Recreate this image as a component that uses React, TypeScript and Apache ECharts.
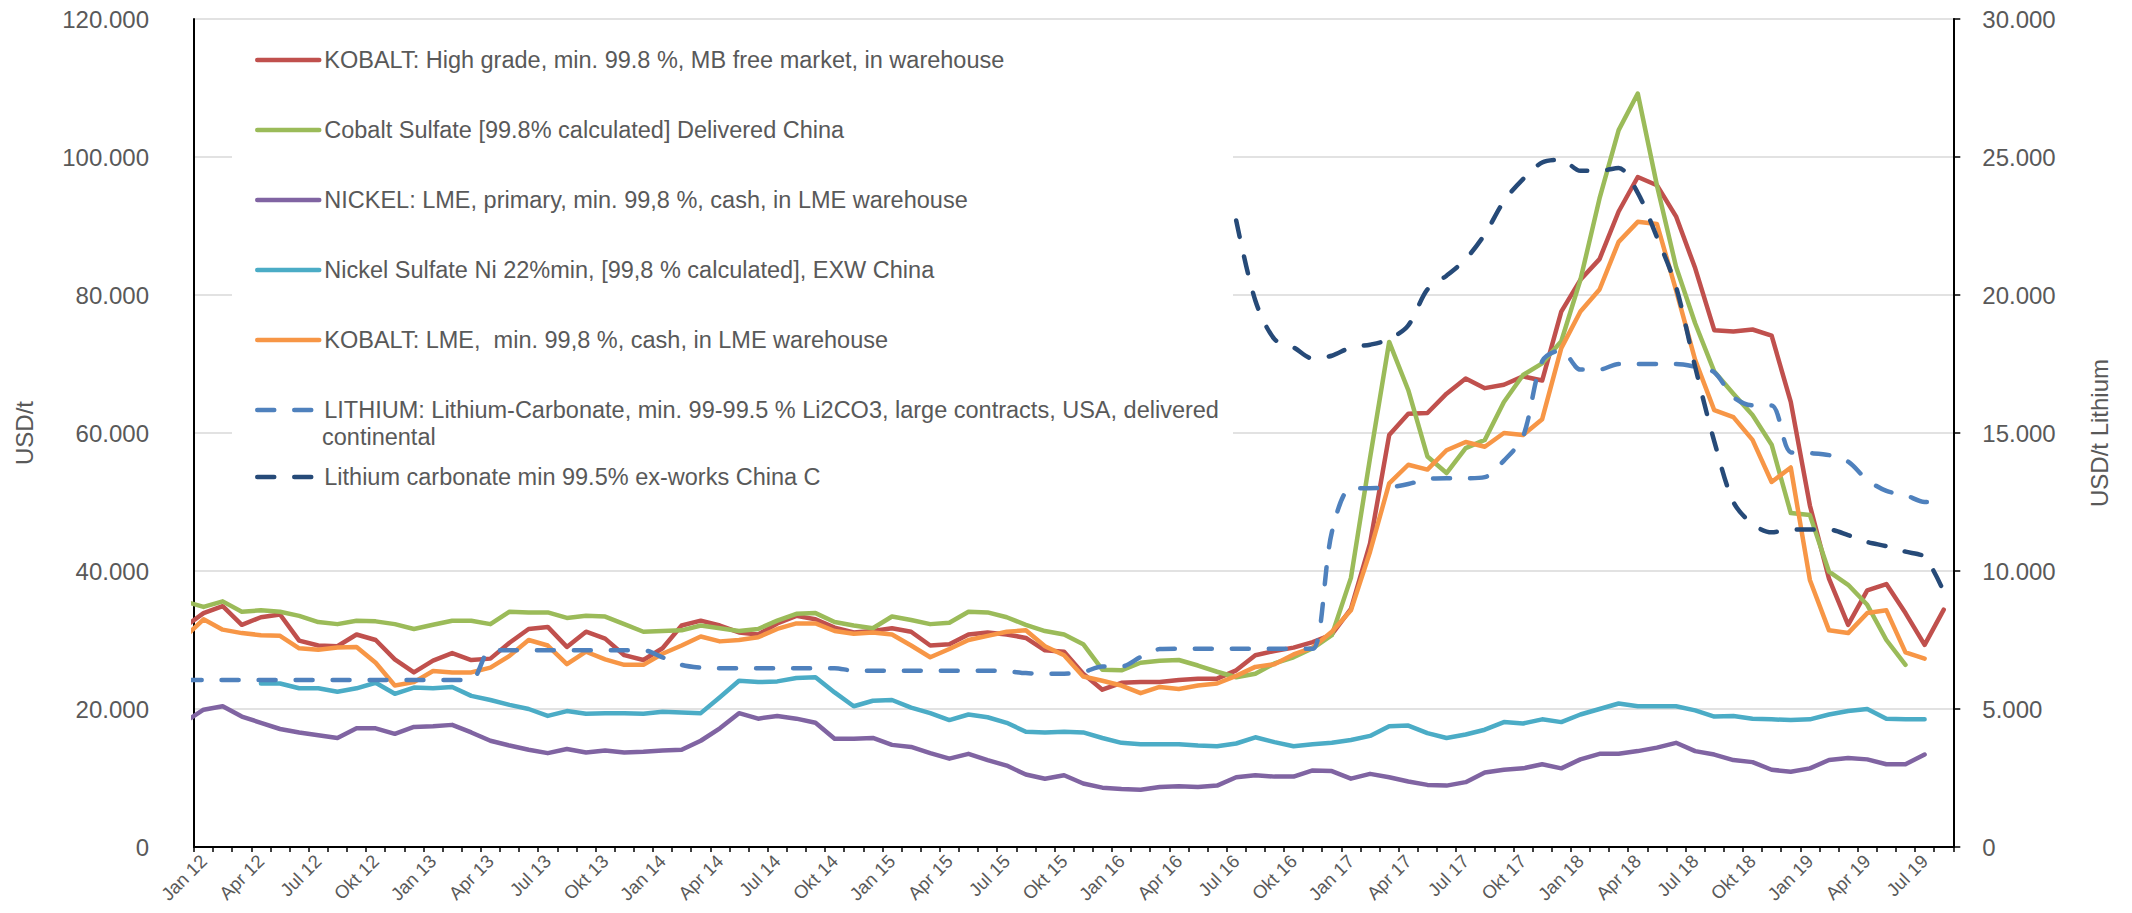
import React, { useEffect, useRef } from "react";
import * as echarts from "echarts";

const MONTHS = ["Jan", "Feb", "Mrz", "Apr", "Mai", "Jun", "Jul", "Aug", "Sep", "Okt", "Nov", "Dez"];
const YEARS = ["12", "13", "14", "15", "16", "17", "18", "19"];
const CATEGORIES: string[] = YEARS.flatMap((y) => MONTHS.map((m) => `${m} ${y}`)).slice(0, 92);

const NAMES = [
  "KOBALT: High grade, min. 99.8 %, MB free market, in warehouse",
  "Cobalt Sulfate [99.8% calculated] Delivered China",
  "NICKEL: LME, primary, min. 99,8 %, cash, in LME warehouse",
  "Nickel Sulfate Ni 22%min, [99,8 % calculated], EXW China",
  "KOBALT: LME,  min. 99,8 %, cash, in LME warehouse",
  "LITHIUM: Lithium-Carbonate, min. 99-99.5 % Li2CO3, large contracts, USA, delivered",
  "Lithium carbonate min 99.5% ex-works China C",
];
const LITHIUM_SECOND_LINE = "continental";

// values in thousand USD/t, Jan 12 .. Aug 19 (92 months)
const KOBALT_MB = [
  33.9, 34.9, 32.2, 33.3, 33.7, 29.9, 29.2, 29.1, 30.8, 30.0,
  27.2, 25.3, 27.0, 28.1, 27.1, 27.3, 29.6, 31.6, 31.9, 29.0,
  31.2, 30.2, 27.8, 27.1, 28.8, 32.1, 32.8, 32.1, 31.1, 30.8,
  32.4, 33.5, 33.0, 31.8, 31.1, 31.3, 31.7, 31.2, 29.2, 29.4,
  30.8, 31.1, 30.8, 30.3, 28.5, 28.3, 25.1, 22.8, 23.8, 23.9,
  23.9, 24.2, 24.4, 24.4, 25.6, 27.8, 28.4, 28.9, 29.7, 30.8,
  34.5, 44.0, 59.7, 62.8, 62.9, 65.7, 67.9, 66.5, 67.0, 68.2,
  67.6, 77.6, 82.2, 85.2, 92.1, 97.1, 95.9, 91.4, 83.9, 74.9,
  74.7, 75.0, 74.1, 64.5, 49.5, 38.9, 32.2, 37.2, 38.1, 33.9,
  29.3, 34.4,
];
const COBALT_SULFATE = [
  34.8, 35.6, 34.1, 34.3, 34.1, 33.5, 32.6, 32.3, 32.8, 32.7,
  32.3, 31.6, 32.2, 32.8, 32.8, 32.3, 34.1, 34.0, 34.0, 33.2,
  33.5, 33.4, 32.3, 31.2, 31.3, 31.4, 32.1, 31.7, 31.3, 31.6,
  32.8, 33.8, 33.9, 32.6, 32.1, 31.7, 33.4, 32.9, 32.3, 32.5,
  34.1, 34.0, 33.3, 32.2, 31.3, 30.8, 29.4, 25.7, 25.6, 26.7,
  27.0, 27.1, 26.3, 25.4, 24.6, 25.1, 26.6, 27.5, 28.8, 30.7,
  39.0, 56.4, 73.2, 66.2, 56.6, 54.2, 57.8, 59.0, 64.5, 68.4,
  70.1, 73.3, 82.2, 94.0, 103.9, 109.2, 95.9, 84.1, 75.9, 68.9,
  65.7, 62.6, 58.3, 48.4, 48.1, 39.9, 38.0, 35.1, 30.0, 26.4,
  null, null,
];
const NICKEL_LME = [
  19.9, 20.4, 18.9, 18.0, 17.1, 16.6, 16.2, 15.8, 17.2, 17.2,
  16.4, 17.4, 17.5, 17.7, 16.6, 15.4, 14.7, 14.1, 13.6, 14.2,
  13.7, 14.0, 13.7, 13.8, 14.0, 14.1, 15.4, 17.2, 19.4, 18.6,
  19.0, 18.6, 18.0, 15.7, 15.7, 15.8, 14.8, 14.5, 13.6, 12.8,
  13.5, 12.6, 11.8, 10.5, 9.9, 10.4, 9.2, 8.6, 8.4, 8.3,
  8.7, 8.8, 8.7, 8.9, 10.1, 10.4, 10.2, 10.2, 11.1, 11.0,
  9.9, 10.6, 10.1, 9.5, 9.0, 8.9, 9.4, 10.8, 11.2, 11.4,
  12.0, 11.4, 12.7, 13.5, 13.5, 13.9, 14.4, 15.1, 13.9, 13.4,
  12.6, 12.3, 11.2, 10.9, 11.4, 12.6, 12.9, 12.7, 12.0, 12.0,
  13.4, null,
];
const NICKEL_SULFATE = [
  null, null, null, 23.7, 23.7, 23.0, 23.0, 22.5, 23.0, 23.8,
  22.2, 23.1, 23.0, 23.2, 21.9, 21.3, 20.6, 20.0, 19.0, 19.7,
  19.3, 19.4, 19.4, 19.3, 19.6, 19.5, 19.4, 21.7, 24.1, 23.9,
  24.0, 24.5, 24.6, 22.4, 20.4, 21.2, 21.3, 20.2, 19.4, 18.4,
  19.2, 18.8, 18.0, 16.7, 16.6, 16.7, 16.6, 15.8, 15.1, 14.9,
  14.9, 14.9, 14.7, 14.6, 15.0, 15.9, 15.2, 14.6, 14.9, 15.1,
  15.5, 16.1, 17.5, 17.6, 16.5, 15.8, 16.3, 17.0, 18.1, 17.9,
  18.5, 18.1, 19.2, 20.0, 20.8, 20.4, 20.4, 20.4, 19.8, 18.9,
  19.0, 18.6, 18.5, 18.4, 18.5, 19.2, 19.7, 20.0, 18.6, 18.5,
  18.5, null,
];
const KOBALT_LME = [
  33.0, 31.5, 31.0, 30.7, 30.6, 28.8, 28.6, 28.9, 29.0, 26.7,
  23.4, 23.9, 25.5, 25.3, 25.3, 26.0, 27.7, 30.0, 29.2, 26.5,
  28.3, 27.2, 26.4, 26.4, 28.0, 29.2, 30.5, 29.8, 30.0, 30.4,
  31.6, 32.4, 32.4, 31.3, 30.9, 31.1, 30.8, 29.2, 27.5, 28.7,
  30.0, 30.6, 31.2, 31.4, 29.1, 27.8, 24.7, 24.1, 23.4, 22.3,
  23.2, 22.9, 23.4, 23.7, 24.8, 26.1, 26.5, 27.9, 28.9, 31.2,
  34.3, 42.8, 52.7, 55.4, 54.7, 57.5, 58.7, 58.0, 60.0, 59.7,
  62.0, 72.3, 77.6, 80.8, 87.7, 90.6, 90.3, 80.7, 70.6, 63.3,
  62.3, 59.0, 52.9, 55.0, 38.7, 31.4, 31.0, 33.9, 34.3, 28.2,
  27.3, null,
];
// right axis (thousand USD/t)
const LITHIUM_USA = [
  6.05, 6.05, 6.05, 6.05, 6.05, 6.05, 6.05, 6.05, 6.05, 6.05,
  6.05, 6.05, 6.05, 6.05, 6.05, 7.13, 7.13, 7.13, 7.13, 7.13,
  7.13, 7.13, 7.13, 7.13, 6.87, 6.6, 6.5, 6.48, 6.48, 6.48,
  6.48, 6.48, 6.48, 6.48, 6.39, 6.39, 6.39, 6.39, 6.39, 6.39,
  6.39, 6.39, 6.37, 6.3, 6.28, 6.28, 6.34, 6.54, 6.54, 6.88,
  7.17, 7.18, 7.18, 7.18, 7.18, 7.18, 7.18, 7.18, 7.18, 11.4,
  13.0, 13.0, 13.03, 13.15, 13.33, 13.36, 13.36, 13.4, 14.0, 14.87,
  17.6, 18.0, 17.3, 17.3, 17.5, 17.5, 17.5, 17.5, 17.4, 17.2,
  16.3, 16.0, 16.0, 14.3, 14.27, 14.2, 13.96, 13.3, 12.9, 12.75,
  12.5, 12.5,
];
const LITHIUM_CHINA = [
  null, null, null, null, null, null, null, null, null, null,
  null, null, null, null, null, null, null, null, null, null,
  null, null, null, null, null, null, null, null, null, null,
  null, null, null, null, null, null, null, null, null, null,
  null, null, null, null, null, null, null, null, null, null,
  null, null, null, null, 22.7, 19.8, 18.4, 18.1, 17.7, 17.8,
  18.1, 18.2, 18.4, 18.9, 20.2, 20.7, 21.3, 22.2, 23.4, 24.2,
  24.8, 24.9, 24.5, 24.5, 24.6, 23.7, 22.1, 20.3, 17.4, 14.7,
  12.5, 11.7, 11.4, 11.5, 11.5, 11.5, 11.3, 11.05, 10.9, 10.7,
  10.5, 9.25,
];
// Dez 11 values (month before the axis start; the line enters from the left edge)
const DEC11_VALUES = [31.9, 35.6, 18.1, null, 30.4, 6.05, null];

const SERIES_VALUES = [KOBALT_MB, COBALT_SULFATE, NICKEL_LME, NICKEL_SULFATE, KOBALT_LME, LITHIUM_USA, LITHIUM_CHINA];
const COLORS = ["#C0504D", "#9BBB59", "#8064A2", "#4BACC6", "#F79646", "#4F81BD", "#264A78"];
const RIGHT_AXIS = [false, false, false, false, false, true, true];
const DASHED = [false, false, false, false, false, true, true];

const LEGEND_CENTERS = [60, 130, 200, 270, 340, 410, 477];
const FONT = "'Liberation Sans', Arial, sans-serif";
const GREY = "#595959";
const DASH = [17, 20];

function fmt(v: number) {
  return v === 0 ? "0" : (v / 1000).toFixed(3);
}

export default function App() {
  const ref = useRef<HTMLDivElement>(null);
  useEffect(() => {
    if (!ref.current) return;
    const chart = echarts.init(ref.current, undefined, { renderer: "svg" });

    const series = SERIES_VALUES.map((vals, k) => {
      const pts: [number, number][] = [];
      const pre = DEC11_VALUES[k];
      if (pre != null) pts.push([-1, pre * 1000]);
      vals.forEach((v, i) => {
        if (v != null) pts.push([i, v * 1000]);
      });
      return {
        name: NAMES[k],
        type: "line",
        xAxisIndex: 1,
        yAxisIndex: RIGHT_AXIS[k] ? 1 : 0,
        data: pts,
        showSymbol: false,
        symbol: "none",
        smooth: DASHED[k] ? 0.3 : false,
        clip: true,
        z: 3 + k,
        lineStyle: {
          color: COLORS[k],
          width: 4.5,
          type: DASHED[k] ? DASH : "solid",
          cap: "round",
          join: "round",
        },
        itemStyle: { color: COLORS[k] },
      };
    });

    const legends = NAMES.map((name, k) => ({
      data: [name],
      left: 255,
      top: LEGEND_CENTERS[k] - 14,
      orient: "horizontal",
      padding: 0,
      itemWidth: 62,
      itemHeight: 14,
      selectedMode: false,
      z: 6,
      textStyle: { fontSize: 23.5, color: GREY, fontFamily: FONT, lineHeight: 28 },
      lineStyle: {
        width: 4.5,
        type: DASHED[k] ? DASH : "solid",
        cap: "round",
      },
      itemStyle: { opacity: 0 },
    }));

    chart.setOption({
      animation: false,
      backgroundColor: "#ffffff",
      textStyle: { fontFamily: FONT },
      grid: { left: 194, right: 178.7, top: 19, bottom: 66, containLabel: false },
      legend: legends,
      graphic: [
        {
          type: "rect",
          z: 1,
          shape: { x: 232, y: 24, width: 1001, height: 482 },
          style: { fill: "#ffffff" },
          silent: true,
        },
        {
          type: "text",
          z: 6,
          left: 322,
          top: 437 - 14,
          style: { text: LITHIUM_SECOND_LINE, fill: GREY, font: `23.5px ${FONT}`, lineHeight: 28 },
          silent: true,
        },
      ],
      xAxis: [
        {
          type: "category",
          data: CATEGORIES,
          boundaryGap: true,
          axisLine: { onZero: false, lineStyle: { color: "#000000", width: 2 } },
          axisTick: { show: true, interval: 0, length: 5, lineStyle: { color: "#000000", width: 1.5 } },
          axisLabel: { interval: 2, rotate: 45, fontSize: 18.5, color: GREY, margin: 11, fontFamily: FONT },
          splitLine: { show: false },
        },
        {
          type: "value",
          min: -0.5,
          max: 91.5,
          show: false,
          axisLine: { onZero: false },
          splitLine: { show: false },
        },
      ],
      yAxis: [
        {
          type: "value",
          min: 0,
          max: 120000,
          interval: 20000,
          position: "left",
          name: "USD/t",
          nameLocation: "middle",
          nameRotate: 90,
          nameGap: 158,
          nameTextStyle: { fontSize: 24, color: GREY, fontFamily: FONT },
          axisLine: { show: true, onZero: false, lineStyle: { color: "#000000", width: 2 } },
          axisTick: { show: false },
          axisLabel: { formatter: fmt, fontSize: 24, color: GREY, margin: 45, fontFamily: FONT },
          splitLine: { show: true, lineStyle: { color: "#d9d9d9", width: 1.5 } },
        },
        {
          type: "value",
          min: 0,
          max: 30000,
          interval: 5000,
          position: "right",
          name: "USD/t Lithium",
          nameLocation: "middle",
          nameRotate: 90,
          nameGap: 134,
          nameTextStyle: { fontSize: 24, color: GREY, fontFamily: FONT },
          axisLine: { show: true, onZero: false, lineStyle: { color: "#000000", width: 2 } },
          axisTick: { show: true, length: 7, lineStyle: { color: "#000000", width: 1.5 } },
          axisLabel: { formatter: fmt, fontSize: 24, color: GREY, margin: 29, fontFamily: FONT },
          splitLine: { show: false },
        },
      ],
      series,
    });
    return () => chart.dispose();
  }, []);
  return (
    <div
      ref={ref}
      style={{ position: "absolute", left: 0, top: 0, width: 2132, height: 913, background: "#fff" }}
    />
  );
}
